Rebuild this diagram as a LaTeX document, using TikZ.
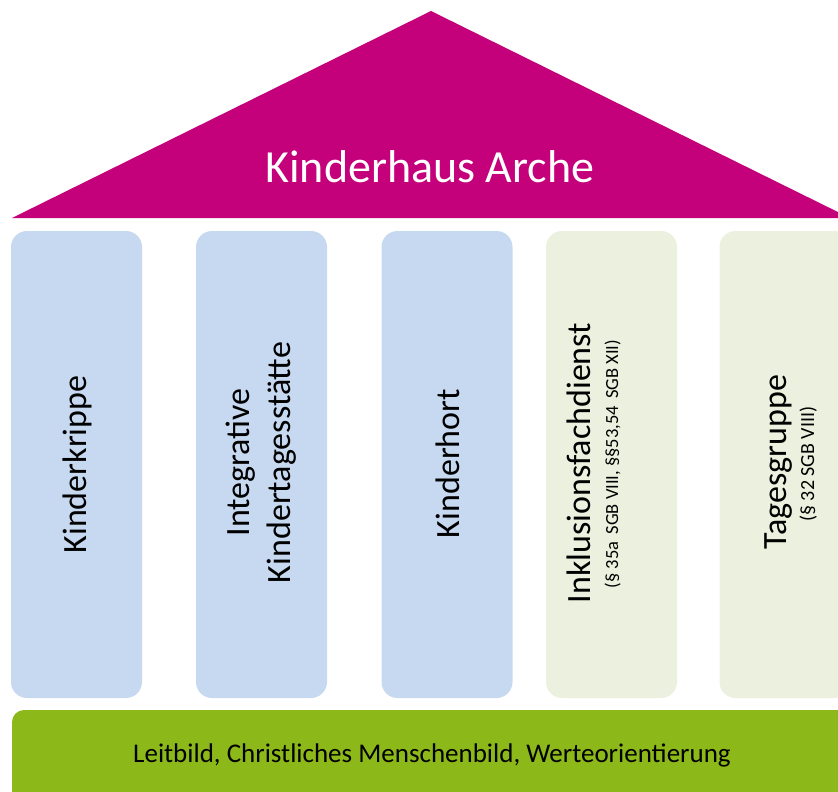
\documentclass[tikz,border=0pt]{standalone}
\usepackage{fontspec}
\setmainfont{Carlito}
\usepackage{tikz}
\usetikzlibrary{%
  calc,%
  positioning%
}
\definecolor{dach}{RGB}{196,0,122}
\definecolor{blau}{RGB}{198,217,240}
\definecolor{beige}{RGB}{235,241,222}
\definecolor{gruen}{RGB}{140,185,25}
\tikzset{
  saeule/.style={rectangle,rounded corners=16pt,inner sep=0pt,
    minimum width=131pt,minimum height=467pt},
  saeulentext/.style={rotate=90,inner sep=0pt,align=center,
    font=\fontsize{34}{41}\selectfont},
  zusatz/.style={rotate=90,inner sep=0pt,font=\fontsize{20}{24}\selectfont},
  dachtext/.style={text=white,inner sep=0pt,font=\fontsize{46}{55}\selectfont},
  sockeltext/.style={inner sep=0pt,font=\fontsize{27}{32}\selectfont}
}

\begin{document}
\begin{tikzpicture}[x=1pt,y=-1pt]
  \useasboundingbox (0,0) rectangle (838,792);
  \clip (0,0) rectangle (838,792);
  % Dach
  \fill[dach] (12,218) -- (431,11) -- (850,218) -- cycle;
  \node[dachtext,anchor=base] (arche) at (430,182) {Kinderhaus Arche};
  % Saeulen
  \foreach \name/\xc/\col in {krippe/76.5/blau,kita/261.5/blau,hort/447/blau,
    inklusion/611.5/beige,tages/785/beige}
    \node[saeule,fill=\col] (\name) at (\xc,464.5) {};
  \node[saeulentext] (t-krippe) at ([xshift=0.5pt]krippe.center) {Kinderkrippe};
  \node[saeulentext] (t-kita) at ([yshift=2pt]kita.center) {Integrative\\Kindertagesstätte};
  \node[saeulentext] (t-hort) at ([xshift=1pt,yshift=1pt]hort.center) {Kinderhort};
  \node[saeulentext,anchor=base] (t-inklusion) at (590,463) {Inklusionsfachdienst};
  \node[zusatz,anchor=base,font=\fontsize{18.5}{22}\selectfont] (z-inklusion) at (618,464)
  {(§ 35a\, SGB VIII, §§53,54\, SGB XII)};
  \node[saeulentext,anchor=base] (t-tages) at (786,462) {Tagesgruppe};
  \node[zusatz,anchor=base] (z-tages) at (814,464) {(§ 32 SGB VIII)};
  % Sockel
  \fill[gruen,rounded corners=12pt] (12,710) rectangle (850,820);
  \node[sockeltext,anchor=base] (leitbild) at (432,762)
  {Leitbild, Christliches Menschenbild, Werteorientierung};
\end{tikzpicture}
\end{document}
